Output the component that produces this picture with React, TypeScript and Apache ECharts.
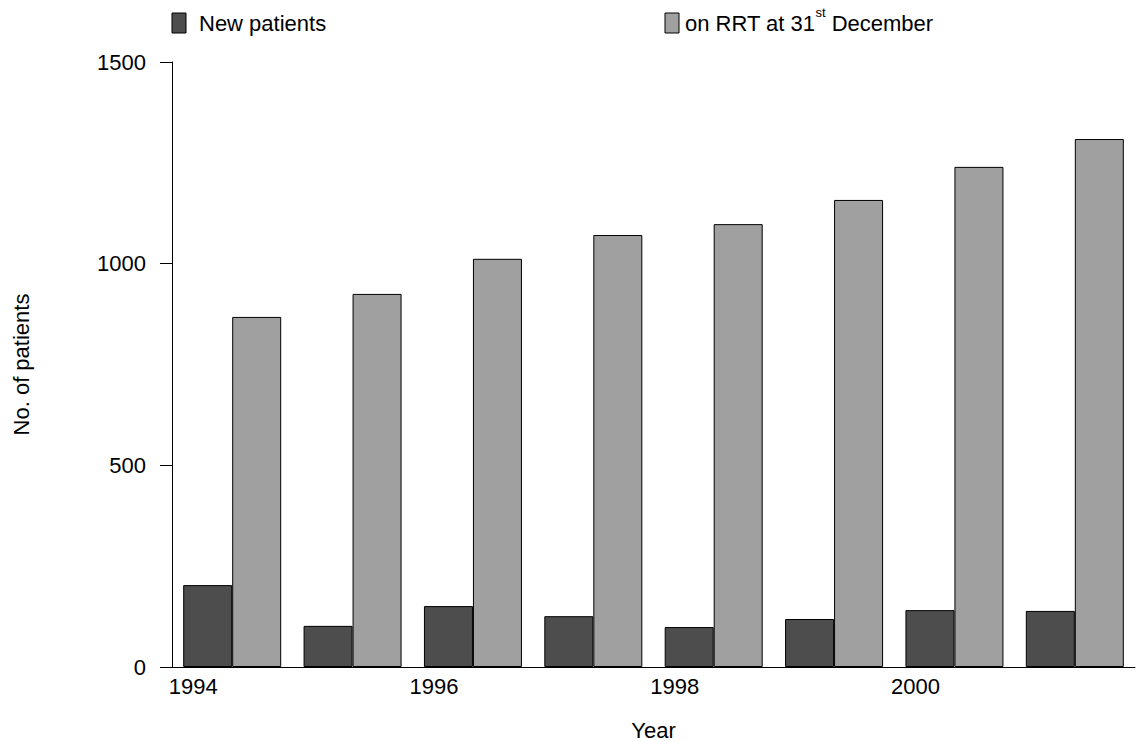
import React, { useEffect, useRef } from "react";
import * as echarts from "echarts";

const years = ["1994", "1995", "1996", "1997", "1998", "1999", "2000", "2001"];
const newPatients = [203, 102, 151, 126, 99, 119, 141, 139];
const onRrt = [868, 925, 1012, 1071, 1098, 1158, 1240, 1309];

const FONT = "Liberation Sans, Arial, sans-serif";
const FS = 22;

export default function App() {
    const ref = useRef<HTMLDivElement>(null);

    useEffect(() => {
        if (!ref.current) return;
        const chart = echarts.init(ref.current, undefined, { renderer: "svg" });
        chart.setOption({
            animation: false,
            backgroundColor: "#fff",
            textStyle: { fontFamily: FONT },
            grid: { left: 172, right: 8, top: 62, bottom: 75, containLabel: false, outerBoundsMode: "none" },
            xAxis: {
                type: "category",
                data: years,
                name: "Year",
                nameLocation: "middle",
                nameGap: 52,
                nameTextStyle: { color: "#000", fontSize: FS, fontFamily: FONT },
                axisLine: { lineStyle: { color: "#000", width: 1 } },
                axisTick: { show: false },
                axisLabel: {
                    interval: 1,
                    color: "#000",
                    fontSize: FS,
                    fontFamily: FONT,
                    margin: 8,
                    padding: [0, 78, 0, 0],
                },
            },
            yAxis: {
                type: "value",
                min: 0,
                max: 1500,
                interval: 500,
                name: "No. of patients",
                nameLocation: "middle",
                nameGap: 140,
                nameRotate: 90,
                nameTextStyle: { color: "#000", fontSize: FS, fontFamily: FONT },
                axisLine: { show: true, lineStyle: { color: "#000", width: 1 } },
                axisTick: { show: true, length: 12, lineStyle: { color: "#000" } },
                axisLabel: {
                    color: "#000",
                    fontSize: FS,
                    fontFamily: FONT,
                    margin: 26,
                    formatter: (v: number) => String(v),
                },
                splitLine: { show: false },
            },
            series: [
                {
                    name: "New patients",
                    type: "bar",
                    data: newPatients,
                    barWidth: 49,
                    barGap: "0%",
                    itemStyle: { color: "#4d4d4d", borderColor: "#000", borderWidth: 1 },
                },
                {
                    name: "on RRT at 31st December",
                    type: "bar",
                    data: onRrt,
                    barWidth: 49,
                    itemStyle: { color: "#a0a0a0", borderColor: "#000", borderWidth: 1 },
                },
            ],
            graphic: [
                { type: "rect", shape: { x: 172, y: 13, width: 14, height: 20 }, style: { fill: "#4d4d4d", stroke: "#000", lineWidth: 1 } },
                { type: "text", x: 199, y: 12, style: { text: "New patients", fontSize: FS, fontFamily: FONT, fill: "#000" } },
                { type: "rect", shape: { x: 665, y: 13, width: 14, height: 20 }, style: { fill: "#a0a0a0", stroke: "#000", lineWidth: 1 } },
                {
                    type: "text",
                    x: 685,
                    y: 6,
                    style: {
                        text: "{a|on RRT at 31}{s|st}{a| December}",
                        fontFamily: FONT,
                        fill: "#000",
                        rich: {
                            a: { fontSize: FS, fontFamily: FONT, verticalAlign: "bottom", lineHeight: 28 },
                            s: { fontSize: 13, fontFamily: FONT, verticalAlign: "top", lineHeight: 28, padding: [0, 0, 10, 0] },
                        },
                    },
                },
            ],
        });
        return () => chart.dispose();
    }, []);

    return (
        <div
            ref={ref}
            style={{ position: "absolute", left: 0, top: 0, width: 1143, height: 742 }}
        />
    );
}
